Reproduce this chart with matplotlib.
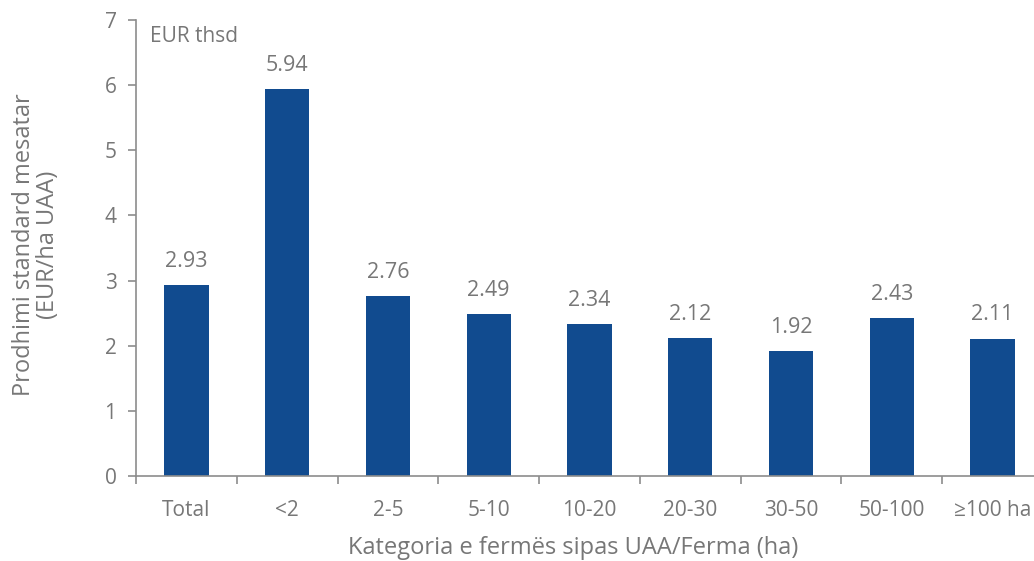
import matplotlib
matplotlib.use("Agg")
import matplotlib.pyplot as plt

categories = ["Total", "<2", "2-5", "5-10", "10-20", "20-30", "30-50", "50-100", "≥100 ha"]
values = [2.93, 5.94, 2.76, 2.49, 2.34, 2.12, 1.92, 2.43, 2.11]

bar_color = "#114B8F"
text_color = "#777777"
axis_color = "#8C8C8C"

plt.rcParams["font.family"] = ["Open Sans", "DejaVu Sans"]

fig = plt.figure(figsize=(10.34, 5.61), dpi=100)
W, H = 1034, 561
x0, x1 = 136, 1043
y0, y1 = 476, 20
ax = fig.add_axes([x0 / W, 1 - y0 / H, (x1 - x0) / W, (y0 - y1) / H])

pos = range(len(categories))
ax.bar(pos, values, width=0.44, color=bar_color, zorder=2)

for x, v in zip(pos, values):
    ax.annotate(f"{v:.2f}", (x, v), xytext=(0, 13), textcoords="offset points",
                ha="center", va="baseline", fontsize=15.5, color=text_color)

ax.set_xlim(-0.5, len(categories) - 0.5)
ax.set_ylim(0, 7)
ax.set_yticks(range(0, 8))
ax.set_xticks([i + 0.5 for i in range(-1, len(categories))], minor=False)
ax.set_xticklabels([])
ax.set_xticks(list(pos), minor=True)
ax.set_xticklabels(categories, minor=True)

ax.tick_params(axis="x", which="major", length=6, width=1.2, color=axis_color, direction="out")
ax.tick_params(axis="x", which="minor", length=0, pad=17, labelsize=15, labelcolor=text_color)
ax.tick_params(axis="y", length=6, width=1.2, color=axis_color, direction="out",
               labelsize=15, labelcolor=text_color, pad=8)

for s in ["top", "right"]:
    ax.spines[s].set_visible(False)
for s in ["left", "bottom"]:
    ax.spines[s].set_color(axis_color)
    ax.spines[s].set_linewidth(1.2)

fig.text(573 / W, 1 - 548 / H, "Kategoria e fermës sipas UAA/Ferma (ha)",
         ha="center", va="center", fontsize=17, color=text_color)
fig.text(36 / W, 1 - 245 / H, "Prodhimi standard mesatar\n(EUR/ha UAA)", rotation=90,
         ha="center", va="center", fontsize=17, color=text_color, linespacing=1.05)

fig.text(150 / W, 1 - 37 / H, "EUR thsd", ha="left", va="center",
         fontsize=15, color=text_color)

fig.savefig("out.png", dpi=100)
